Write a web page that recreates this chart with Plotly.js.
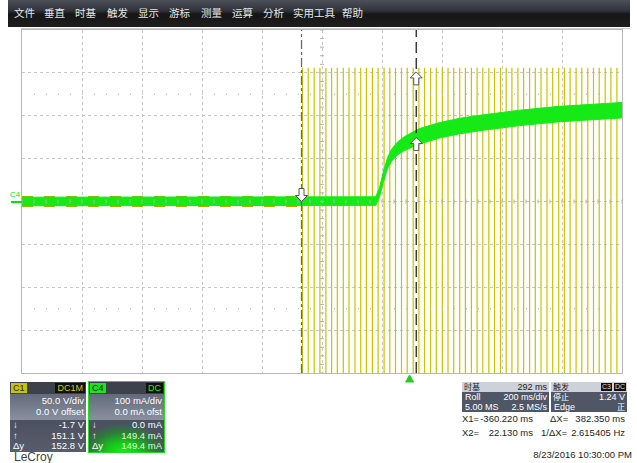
<!DOCTYPE html>
<html><head><meta charset="utf-8">
<script src="https://cdn.plot.ly/plotly-3.0.1.min.js"></script>
<style>
body{margin:0;width:637px;height:463px;overflow:hidden;background:#fff;font-family:"Liberation Sans",Arial,sans-serif;position:relative}
#plot{position:absolute;left:0;top:0;width:637px;height:463px}
.a{position:absolute;white-space:pre}
#menu{left:8px;top:0;width:622px;height:27px;background:linear-gradient(#4c505a 0%,#30323a 40%,#161616 52%,#1e1e1e 100%)}
.mi{position:absolute;top:6px;color:#e6e6e6;font:10.5px "Noto Sans CJK SC",sans-serif;line-height:14px}
.panel{position:absolute;color:#fff;font-size:9.5px}
.row{position:absolute;right:2px;line-height:10px;white-space:pre}
.lft{position:absolute;left:3px;line-height:10px;white-space:pre}
.box{position:absolute;top:1px;height:10px;line-height:10px;font-size:9px;padding:0 2px}
.cj{position:absolute;font:8px "Noto Sans CJK SC",sans-serif;line-height:10px;white-space:pre}
.sm{font-size:9px}
.cur{position:absolute;font-size:9.5px;color:#222;line-height:11px;white-space:pre}
</style></head><body>
<div id="plot"></div>
<div id="menu" class="a">
<span class="mi" style="left:6px">文件</span><span class="mi" style="left:36px">垂直</span><span class="mi" style="left:67px">时基</span><span class="mi" style="left:99px">触发</span><span class="mi" style="left:130px">显示</span><span class="mi" style="left:161px">游标</span><span class="mi" style="left:193px">测量</span><span class="mi" style="left:224px">运算</span><span class="mi" style="left:255px">分析</span><span class="mi" style="left:285px">实用工具</span><span class="mi" style="left:334px">帮助</span>
</div>
<div class="a" style="left:21px;top:28px;width:609px;height:1px;background:#cfcfcf"></div>
<div class="a" style="left:10px;top:191px;color:#11dd11;font-size:8px;line-height:8px">C4</div>
<div class="a" style="left:11px;top:201px;width:11px;height:2px;background:#11dd11"></div>

<div class="panel" style="left:10px;top:382px;width:76px;height:70px;background:linear-gradient(#3c414c 0,#3c414c 12px,#636a7b 12px,#8a909e 38px,#4b5160 38px,#575d6b 70px)">
 <div class="box" style="left:1px;background:#c9c200;color:#222">C1</div>
 <div class="box" style="right:1px;background:#101010;color:#d4cc00">DC1M</div>
 <div class="row" style="top:14px">50.0 V/div</div>
 <div class="row" style="top:25px">0.0 V offset</div>
 <div class="lft" style="top:38px">↓</div><div class="row" style="top:38px">-1.7 V</div>
 <div class="lft" style="top:49px">↑</div><div class="row" style="top:49px">151.1 V</div>
 <div class="lft" style="top:59px">Δy</div><div class="row" style="top:59px">152.8 V</div>
</div>
<div class="panel" style="left:88px;top:381px;width:75px;height:70px;border:1px solid #22dd22;background:linear-gradient(#3c414c 0,#3c414c 12px,#636a7b 12px,#8a909e 38px,#4b5160 38px)">
 <div class="a" style="left:0;top:38px;width:75px;height:32px;background:radial-gradient(ellipse 60% 90% at 45% 100%,#14f014 0%,#18c41c 35%,#2f7a3a 70%,#4b5160 100%)"></div>
 <div class="box" style="left:1px;background:#22e022;color:#111">C4</div>
 <div class="box" style="right:1px;background:#101010;color:#22ee22">DC</div>
 <div class="row" style="top:14px">100 mA/div</div>
 <div class="row" style="top:25px">0.0 mA ofst</div>
 <div class="lft" style="top:38px">↓</div><div class="row" style="top:38px">0.0 mA</div>
 <div class="lft" style="top:49px">↑</div><div class="row" style="top:49px;color:#d8ffd8">149.4 mA</div>
 <div class="lft" style="top:59px">Δy</div><div class="row" style="top:59px;color:#d8ffd8">149.4 mA</div>
</div>
<div class="a" style="left:14px;top:452px;font-size:12px;line-height:11px;color:#444">LeCroy</div>

<div class="panel" style="left:462px;top:382px;width:87px;height:30px;background:#4f5666">
 <div class="a" style="left:0;top:0;width:87px;height:10px;background:#cdd1da"></div>
 <div class="cj" style="left:2px;top:0px;color:#222">时基</div>
 <div class="row sm" style="top:0px;color:#222">292 ms</div>
 <div class="lft sm" style="top:10px">Roll</div><div class="row sm" style="top:10px">200 ms/div</div>
 <div class="lft sm" style="top:20px">5.00 MS</div><div class="row sm" style="top:20px">2.5 MS/s</div>
</div>
<div class="panel" style="left:551px;top:382px;width:76px;height:30px;background:#4f5666">
 <div class="a" style="left:0;top:0;width:76px;height:10px;background:#cdd1da"></div>
 <div class="cj" style="left:2px;top:0px;color:#222">触发</div>
 <div class="box" style="right:15px;top:1px;height:8px;line-height:8px;font-size:7px;background:#111;color:#ddd;padding:0 1px">C3</div>
 <div class="box" style="right:1px;top:1px;height:8px;line-height:8px;font-size:7px;background:#111;color:#ddd;padding:0 1px">DC</div>
 <div class="cj" style="left:2px;top:10px">停止</div><div class="row sm" style="top:10px">1.24 V</div>
 <div class="lft sm" style="top:20px">Edge</div><div class="cj" style="right:2px;top:20px">正</div>
</div>
<div class="cur" style="left:462px;top:413px">X1=</div>
<div class="cur" style="right:104px;top:413px">-360.220 ms</div>
<div class="cur" style="left:550px;top:413px">ΔX=</div>
<div class="cur" style="right:12px;top:413px">382.350 ms</div>
<div class="cur" style="left:462px;top:427px">X2=</div>
<div class="cur" style="right:104px;top:427px">22.130 ms</div>
<div class="cur" style="left:541px;top:427px">1/ΔX=</div>
<div class="cur" style="right:12px;top:427px">2.615405 Hz</div>
<div class="cur" style="right:5px;top:449px">8/23/2016 10:30:00 PM</div>

<script>
// ---- data (time in ms) ----
const xRange = [-1292, 708];           // 10 div x 200 ms/div, delay 292 ms
const c1Range = [-200, 200];           // 50 V/div x 8 div
const c4Range = [-400, 400];           // 100 mA/div x 8 div
const c1IdleT = [-1292, -358];
const c1IdleV = [0, 0];
const c1PulseT = [-357,-338,-318,-299,-279,-260,-241,-221,-202,-182,-163,-144,-124,-105,-85,-66,-47,-27,-8,12,31,50,70,89,109,128,147,167,186,206,225,244,264,283,303,322,341,361,380,400,419,438,458,477,497,516,535,555,574,594,613,632,652,671,691];
const c1HighV = 156;
const c1LowV = -206;
const c4T  = [-1292,-113,-100,-87,-73,-60,-40,-20,0,33,100,167,233,367,500,633,708];
const c4mA = [0,1,22,59,90,108,124,134,141,152,166,176,183,195,204,210,213];
const c4Noise = [10,10,11,12,13,14,15,16,17,18,18,18,18,18,18,18,18];
const cursorX1 = -360.22, cursorX2 = 22.13;
const cursorC1 = 151.1, cursorC4Hi = 149.4, cursorC4Lo = 0.0;
const trigT = 0;

// ---- build traces ----
const px = [], py = [];
c1PulseT.forEach(t => { px.push(t, t, null); py.push(c1LowV, c1HighV, null); });
const up = c4mA.map((v,i)=>v + c4Noise[i]);
const lo = c4mA.map((v,i)=>v - c4Noise[i]);
const green = '#16ea16';
const traces = [
 {x:c1IdleT, y:c1IdleV, yaxis:'y', mode:'lines', line:{color:'#bca800', width:11, dash:'dot'}, hoverinfo:'skip'},
 {x:px, y:py, yaxis:'y', mode:'lines', line:{color:'#c8c200', width:1.2}, connectgaps:false, hoverinfo:'skip'},
 {x:c4T, y:up, yaxis:'y2', mode:'lines', line:{color:green, width:1}, hoverinfo:'skip'},
 {x:c4T, y:lo, yaxis:'y2', mode:'lines', fill:'tonexty', fillcolor:green, line:{color:green, width:1}, hoverinfo:'skip'}
];

const shapes = [];
const cx = (xRange[0]+xRange[1])/2;
for (let v = c1Range[0]; v <= c1Range[1]; v += 10)
  shapes.push({type:'line', xref:'x', yref:'y', xsizemode:'pixel', xanchor:cx, x0:-2, x1:2, y0:v, y1:v, line:{color:'#b0b0b0', width:1}});
for (let t = xRange[0]; t <= xRange[1]; t += 40)
  shapes.push({type:'line', xref:'x', yref:'y', ysizemode:'pixel', yanchor:0, y0:-2, y1:2, x0:t, x1:t, line:{color:'#b0b0b0', width:1}});
[125, -125].forEach(v => shapes.push({type:'line', xref:'paper', yref:'y', x0:0.02, x1:1, y0:v, y1:v, line:{color:'#c0c0c0', width:1.5, dash:'1px,11px'}}));
shapes.push({type:'line', xref:'x', yref:'paper', x0:cursorX1, x1:cursorX1, y0:0, y1:1, line:{color:'#6a6a6a', width:1.3, dash:'dashdot'}});
shapes.push({type:'line', xref:'x', yref:'paper', x0:cursorX2, x1:cursorX2, y0:0, y1:1, line:{color:'#222', width:1.3, dash:'11px,5px'}});
const dn = 'M0,0 L-6,6 L-2.5,6 L-2.5,13 L2.5,13 L2.5,6 L6,6 Z';
const upA = 'M0,0 L-6,-6 L-2.5,-6 L-2.5,-13 L2.5,-13 L2.5,-6 L6,-6 Z';
const arrow = (t, yref, v, p) => ({type:'path', xref:'x', yref:yref, xsizemode:'pixel', ysizemode:'pixel', xanchor:t, yanchor:v, path:p, fillcolor:'#fff', line:{color:'#555', width:1}});
shapes.push(arrow(cursorX1, 'y2', cursorC4Lo, dn));
shapes.push(arrow(cursorX2, 'y', cursorC1, upA));
shapes.push(arrow(cursorX2, 'y2', cursorC4Hi, upA));
shapes.push({type:'path', xref:'x', yref:'paper', xsizemode:'pixel', ysizemode:'pixel', xanchor:trigT, yanchor:0, path:'M0,-2 L-4,-9 L4,-9 Z', fillcolor:'#22cc22', line:{color:'#22cc22', width:1}});

const ax = {showgrid:true, gridcolor:'#c6c6c6', griddash:'dot', gridwidth:1, zeroline:false, showticklabels:false, ticks:'', showline:true, mirror:true, linecolor:'#b8b8b8', linewidth:1, fixedrange:true};
const layout = {
 width:637, height:463, margin:{l:22, r:15, t:30, b:90, pad:0},
 paper_bgcolor:'rgba(0,0,0,0)', plot_bgcolor:'#fff', showlegend:false,
 xaxis:Object.assign({range:xRange, tick0:xRange[0], dtick:200}, ax),
 yaxis:Object.assign({range:c1Range, tick0:0, dtick:50}, ax),
 yaxis2:{range:c4Range, overlaying:'y', showgrid:false, showticklabels:false, zeroline:false, showline:false, ticks:'', fixedrange:true},
 shapes:shapes
};
Plotly.newPlot('plot', traces, layout, {displayModeBar:false, staticPlot:true});
</script>
</body></html>
